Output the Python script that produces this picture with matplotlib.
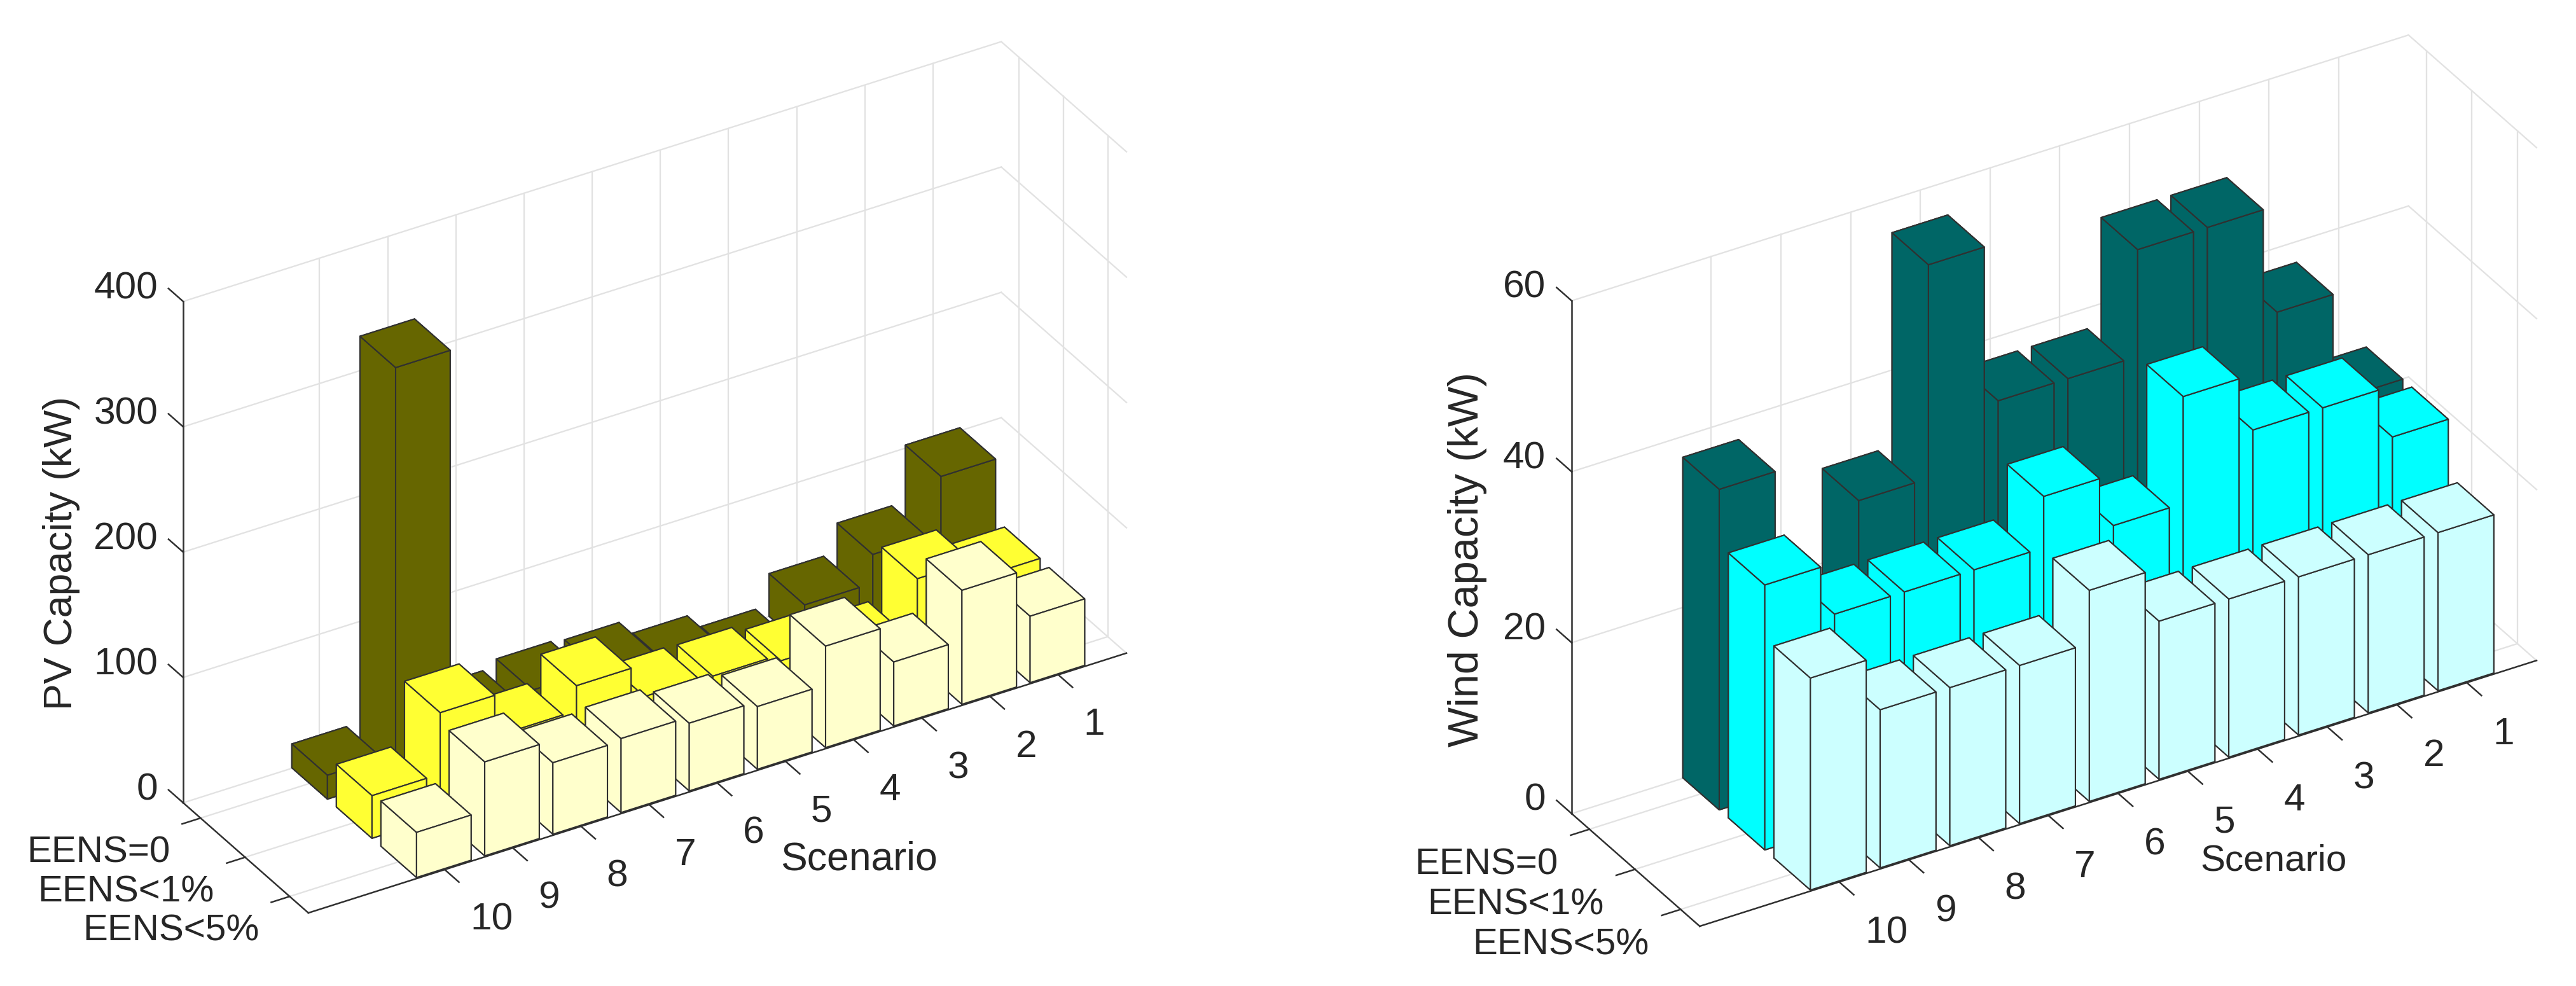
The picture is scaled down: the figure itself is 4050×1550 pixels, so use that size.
import matplotlib
matplotlib.use("Agg")
import matplotlib.pyplot as plt
from mpl_toolkits.mplot3d import proj3d

plt.rcParams['font.family'] = ['Liberation Sans', 'DejaVu Sans']

# --- Data ---
scenarios = [1, 2, 3, 4, 5, 6, 7, 8, 9, 10]
eens_labels = ['EENS=0', 'EENS<1%', 'EENS<5%']

pv_eens0 = [102, 57, 34, 9, 21, 33, 35, 29, 327, 19]
pv_eens1 = [54, 69, 29, 38, 43, 44, 70, 50, 83, 34]
pv_eens5 = [53, 91, 51, 81, 50, 54, 59, 57, 75, 36]

wind_eens0 = [25, 37.5, 50, 50, 37.5, 37.5, 56, 31, 18.5, 37.5]
wind_eens1 = [25, 31, 31, 37.5, 25, 31, 25, 25, 25, 31]
wind_eens5 = [18.5, 18.5, 18.5, 18.5, 18.5, 24.7, 18.5, 18.5, 18.5, 24.8]

pv_colors = ['#666600', '#FFFF33', '#FFFFCC']
wind_colors = ['#006666', '#00FFFF', '#CCFFFF']
pv_ticks = [0, 100, 200, 300, 400]
wind_ticks = [0, 20, 40, 60]

# --- View, same for both panels ---
ELEV, AZIM = 31.9, 59.0
BOX_ASPECT = (1500, 382, 928)
XLIM = (0, 12)
YLIM = (0.61, 3.42)
BAR_W = 0.8
AXIS_COLOR = '#303030'
GRID_COLOR = '#E2E2E2'
TEXT_COLOR = '#262626'
FS = 14

WIDTH_PX, HEIGHT_PX = 4050, 1550
fig = plt.figure(figsize=(WIDTH_PX / 300, HEIGHT_PX / 300), dpi=300)


def place_axes(ax, corner_a, corner_c):
    """Moves the square 3D axes so the box corners land on the given pixels (y from top)."""
    size0 = 1000
    left0, bottom0 = 500, 300
    ax.set_position([left0 / WIDTH_PX, bottom0 / HEIGHT_PX, size0 / WIDTH_PX, size0 / HEIGHT_PX])
    ax.apply_aspect()
    M = ax.get_proj()
    ua, va, _ = proj3d.proj_transform(XLIM[1], YLIM[0], 0, M)
    uc, vc, _ = proj3d.proj_transform(XLIM[0], YLIM[1], 0, M)
    pa = ax.transData.transform((ua, va))
    pc = ax.transData.transform((uc, vc))
    k = (corner_c[0] - corner_a[0]) / (pc[0] - pa[0])
    size = size0 * k
    left = corner_a[0] - k * (pa[0] - left0)
    bottom = (HEIGHT_PX - corner_a[1]) - k * (pa[1] - bottom0)
    ax.set_position([left / WIDTH_PX, bottom / HEIGHT_PX, size / WIDTH_PX, size / HEIGHT_PX])


def label_at(ax, x, y, z, s, **kwargs):
    """Flat text at the projected spot of a 3D point."""
    u, v, _ = proj3d.proj_transform(x, y, z, ax.get_proj())
    ax.text2D(u, v, s, transform=ax.transData, color=TEXT_COLOR, zorder=500, **kwargs)


def draw_grid(ax, zticks):
    """Light grid on the floor and the two back walls, then the dark axis lines."""
    zmax = zticks[-1]
    x0, x1 = XLIM
    y0, y1 = YLIM
    grid = dict(color=GRID_COLOR, lw=0.55, zorder=1)
    for s in scenarios:
        ax.plot([s, s], [y0, y0], [0, zmax], **grid)
        ax.plot([s, s], [y0, y1], [0, 0], **grid)
    for r in range(1, 4):
        ax.plot([x0, x0], [r, r], [0, zmax], **grid)
        ax.plot([x0, x1], [r, r], [0, 0], **grid)
    for z in zticks:
        ax.plot([x0, x1], [y0, y0], [z, z], **grid)
        ax.plot([x0, x0], [y0, y1], [z, z], **grid)

    axis = dict(color=AXIS_COLOR, lw=0.6, zorder=2)
    ax.plot([x1, x1], [y0, y0], [0, zmax], **axis)
    ax.plot([x1, x1], [y0, y1], [0, 0], **axis)
    ax.plot([x0, x1], [y1, y1], [0, 0], **axis)
    for z in zticks:
        ax.plot([x1, x1], [y0, y0 - 0.33], [z, z], **axis)
    for s in scenarios:
        ax.plot([s, s], [y1, y1 + 0.32], [0, 0], **axis)
    for r in range(1, 4):
        ax.plot([x1, x1 + 0.27], [r, r], [0, 0], **axis)


def draw_bars(ax, rows, colors):
    # painter's order: back row first, scenario 1 first
    order = 10
    for r, (values, color) in enumerate(zip(rows, colors), start=1):
        for s, h in zip(scenarios, values):
            ax.bar3d(s - BAR_W / 2, r - BAR_W / 2, 0, BAR_W, BAR_W, h, color=color,
                     shade=False, edgecolor='#303030', linewidth=0.5, zorder=order)
            order += 1


def draw_labels(ax, zticks, scenario_pos, scenario_fs):
    zmax = zticks[-1]
    x1 = XLIM[1]
    y0, y1 = YLIM
    for z in zticks:
        label_at(ax, x1, y0 - 0.57, z - 0.019 * zmax, str(z), ha='right', va='center', fontsize=FS + 0.5)
    for s in scenarios:
        label_at(ax, s, y1 + 0.57, -0.056 * zmax, str(s), ha='left', va='center', fontsize=FS + 0.5)
    for r, label in enumerate(eens_labels, start=1):
        label_at(ax, x1 + 0.45, r, -0.05 * zmax, label, ha='right', va='center', fontsize=FS)
    label_at(ax, scenario_pos[0], y1 + 1.5, scenario_pos[1] * zmax, 'Scenario', ha='center', va='center',
             fontsize=scenario_fs)


def make_panel(rows, colors, zticks, corner_a, corner_c, scenario_pos, scenario_fs):
    ax = fig.add_subplot(projection='3d', proj_type='ortho', computed_zorder=False)
    ax.patch.set_alpha(0)
    ax.set_axis_off()
    ax.view_init(elev=ELEV, azim=AZIM)
    ax.set_box_aspect(BOX_ASPECT)
    ax.set_xlim(*XLIM, view_margin=0)
    ax.set_ylim(*YLIM, view_margin=0)
    ax.set_zlim(0, zticks[-1], view_margin=0)

    draw_grid(ax, zticks)
    draw_bars(ax, rows, colors)
    draw_labels(ax, zticks, scenario_pos, scenario_fs)
    place_axes(ax, corner_a, corner_c)
    return ax


make_panel([pv_eens0, pv_eens1, pv_eens5], pv_colors, pv_ticks,
           (288, 1262), (1771, 1026), (4.9, -0.083), 15)
make_panel([wind_eens0, wind_eens1, wind_eens5], wind_colors, wind_ticks,
           (2471, 1279), (3988, 1039), (4.75, -0.068), 14)

fig.text(97 / WIDTH_PX, 1 - 870 / HEIGHT_PX, 'PV Capacity (kW)', rotation=90, ha='center', va='center',
         color=TEXT_COLOR, fontsize=15)
fig.text(2307 / WIDTH_PX, 1 - 879 / HEIGHT_PX, 'Wind Capacity (kW)', rotation=90, ha='center', va='center',
         color=TEXT_COLOR, fontsize=16)

fig.savefig('out.png', dpi=300)
